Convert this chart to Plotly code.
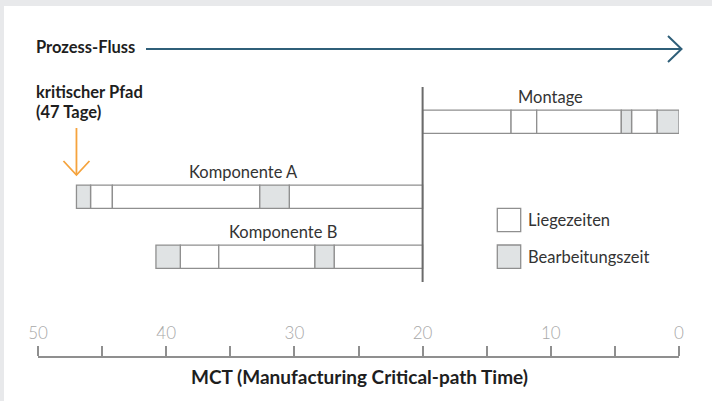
import plotly.graph_objects as go

# ---------------- data (days before shipment) ----------------
montage_bounds = [20, 13.1, 11.1, 4.5, 3.7, 1.7, 0]
montage_types = ["L", "L", "L", "B", "L", "B"]
kompA_bounds = [47, 45.9, 44.2, 32.7, 30.4, 20]
kompA_types = ["B", "L", "L", "B", "L"]
kompB_bounds = [40.8, 38.9, 35.9, 28.4, 26.9, 20]
kompB_types = ["B", "L", "L", "B", "L"]
tick_vals = [0, 5, 10, 15, 20, 25, 30, 35, 40, 45, 50]
tick_text = ["0", "", "10", "", "20", "", "30", "", "40", "", "50"]
critical_path_days = 47
join_day = 20

# ---------------- layout constants ----------------
W, H = 712, 401
ML, MR = 38, 33
row_y = {"Montage": 121.7, "Komponente A": 196.7, "Komponente B": 256.7}
bar_h = 23.3
FILL = {"L": "#ffffff", "B": "#e0e3e4"}
EDGE = "#8f8f8f"
FONT = "Lato"
PAGE = "#e8e9eb"

rows = [("Montage", montage_bounds, montage_types),
        ("Komponente A", kompA_bounds, kompA_types),
        ("Komponente B", kompB_bounds, kompB_types)]

fig = go.Figure()
for kind in ["L", "B"]:
    xs, bases, ys = [], [], []
    for name, bounds, types in rows:
        for i, t in enumerate(types):
            if t == kind:
                start, end = bounds[i], bounds[i + 1]
                xs.append(start - end)
                bases.append(end)
                ys.append(row_y[name])
    fig.add_trace(go.Bar(
        x=xs, base=bases, y=ys, orientation="h", width=bar_h,
        marker=dict(color=FILL[kind], line=dict(color=EDGE, width=1.3)),
        hoverinfo="skip", showlegend=False))

pw = W - ML - MR
def px2paper(px):
    return (px - ML) / pw

shapes = []
# white card on the grey page (page visible at top and left)
shapes.append(dict(type="rect", xref="paper", yref="paper",
                   x0=px2paper(4), x1=px2paper(W + 2), y0=-0.01, y1=1 - 6 / H,
                   fillcolor="#ffffff", line=dict(width=0), layer="below"))
# vertical join line
shapes.append(dict(type="line", xref="x", yref="y", x0=join_day, x1=join_day,
                   y0=87, y1=282, line=dict(color="#6b6b6b", width=2)))
# process flow arrow
ARROW = "#2f5f79"
shapes.append(dict(type="line", xref="paper", yref="y", x0=px2paper(146), x1=1.003,
                   y0=49, y1=49, line=dict(color=ARROW, width=2)))
shapes.append(dict(type="path", xref="paper", yref="y", xsizemode="pixel",
                   ysizemode="pixel", xanchor=1, yanchor=49,
                   path="M -11,13 L 2.5,0 L -11,-13", line=dict(color=ARROW, width=2)))
# critical path arrow
ORANGE = "#f5a33d"
shapes.append(dict(type="line", xref="x", yref="y", x0=critical_path_days,
                   x1=critical_path_days, y0=128, y1=175,
                   line=dict(color=ORANGE, width=1.8)))
shapes.append(dict(type="path", xref="x", yref="y", xsizemode="pixel",
                   ysizemode="pixel", xanchor=critical_path_days, yanchor=175,
                   path="M -13,14 L 0,0 L 13,14", line=dict(color=ORANGE, width=1.8)))
# legend boxes
for y0, kind in [(208.3, "L"), (245, "B")]:
    shapes.append(dict(type="rect", xref="paper", yref="y",
                       x0=px2paper(497.3), x1=px2paper(520.7), y0=y0, y1=y0 + 23.3,
                       fillcolor=FILL[kind], line=dict(color=EDGE, width=1.3)))

ann = []
def txt(text, x, y, xref="x", size=16.5, bold=False, xanchor="center", color="#333333"):
    ann.append(dict(text=f"<b>{text}</b>" if bold else text, x=x, y=y, xref=xref, yref="y",
                    xanchor=xanchor, yanchor="middle", showarrow=False, align="left",
                    font=dict(family=FONT, size=size, color=color)))

txt("Prozess-Fluss", px2paper(34), 47, xref="paper", bold=True, xanchor="left", color="#1e1e1e")
txt("kritischer Pfad", px2paper(34), 92, xref="paper", bold=True, xanchor="left", color="#1e1e1e")
txt("(47 Tage)", px2paper(34), 112, xref="paper", bold=True, xanchor="left", color="#1e1e1e")
txt("Montage", 10, 97)
txt("Komponente A", 34, 171.7)
txt("Komponente B", 30.9, 231.7)
txt("Liegezeiten", px2paper(526), 220, xref="paper", xanchor="left")
txt("Bearbeitungszeit", px2paper(526), 256.7, xref="paper", xanchor="left")
txt("MCT (Manufacturing Critical-path Time)", 24.9, 376, size=19, bold=True, color="#1e1e1e")

fig.update_layout(
    width=W, height=H, margin=dict(l=ML, r=MR, t=0, b=0),
    paper_bgcolor=PAGE, plot_bgcolor="rgba(0,0,0,0)",
    barmode="overlay", showlegend=False,
    shapes=shapes, annotations=ann,
    xaxis=dict(range=[50, 0], anchor="free", position=(H - 356.7) / H, side="top",
               tickvals=tick_vals, ticktext=tick_text, ticks="outside", ticklen=10,
               tickwidth=1.5, tickcolor="#8f8f8f", showline=True, linecolor="#8f8f8f",
               linewidth=1.5, showgrid=False, zeroline=False,
               tickfont=dict(family=FONT, size=17, color="#a8a8a8", weight=300)),
    yaxis=dict(range=[H, 0], visible=False, showgrid=False, zeroline=False),
)
fig.write_html("out.html", config={"displayModeBar": False},
               post_script="document.body.style.margin='0';document.body.style.padding='0';"
                           "document.body.style.overflow='hidden';")
